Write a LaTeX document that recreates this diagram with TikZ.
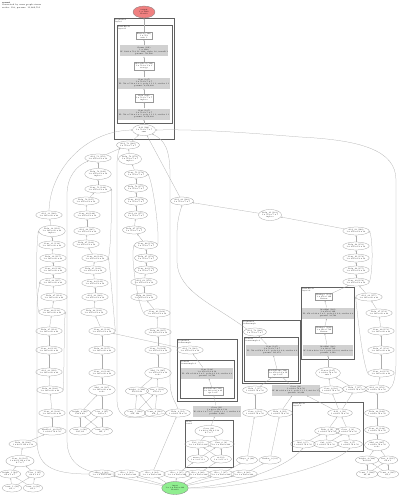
\documentclass[tikz,border=0pt]{standalone}
\usetikzlibrary{shapes.geometric,arrows.meta}
\definecolor{lcoral}{RGB}{240,128,128}
\definecolor{lgreen}{RGB}{144,238,144}
\newcommand\tfs{\fontsize{1.8}{2.15}\selectfont}
\tikzset{
  el/.style={ellipse, draw=black!40, line width=0.25pt, inner sep=0pt, font=\tfs, align=center, minimum width=21pt, minimum height=8pt},
  elt/.style={el, minimum height=11pt},
  wbox/.style={rectangle, draw=black!40, fill=white, line width=0.25pt, inner sep=0.7pt, font=\tfs, align=center, minimum width=16pt},
  gbox/.style={rectangle, fill=black!18, inner sep=0.5pt, font=\tfs, align=center, minimum width=48pt, minimum height=11pt},
  clus/.style={draw=black!62, line width=0.65pt},
  clab/.style={anchor=north west, font=\tfs, align=left, inner sep=0.4pt},
  ed/.style={draw=black!32, line width=0.25pt, -{Stealth[length=1.5pt,width=1.2pt]}},
}
\newcommand\nE[4]{\node[el] (#1) at (#2,#3) {#4};}
\newcommand\nS[4]{\node[el, minimum width=18.5pt] (#1) at (#2,#3) {#4};}
\newcommand\nT[4]{\node[elt] (#1) at (#2,#3) {#4};}
\newcommand\nW[4]{\node[wbox] (#1) at (#2,#3) {#4};}
\newcommand\nG[4]{\node[gbox] (#1) at (#2,#3) {#4};}
\begin{document}
\begin{tikzpicture}[x=1pt,y=-1pt]
\fill[white] (0,0) rectangle (400,495);
\useasboundingbox (0,0) rectangle (400,495);
\node[anchor=north west, font=\fontsize{2}{2.4}\selectfont, align=left, inner sep=0] (title) at (2,2) {\textbf{resnet}\\Generated by onnx graph viewer\\nodes: 118, params: 11,689,512};
% clusters
\draw[clus] (114,18) rectangle (174,139);
\node[clab] (k1) at (114.5,18.5) {Sequential\\layer4};
\draw[clus] (117,25) rectangle (172,123);
\node[clab] (k2) at (117.5,25.5) {BasicBlock\\layer4.1};
\draw[clus] (301,287) rectangle (354,359);
\node[clab] (k3) at (301.5,287.5) {BasicBlock\\layer3.0};
\draw[clus] (242,320) rectangle (300,383);
\node[clab] (k4) at (242.5,320.5) {Sequential\\downsample};
\draw[clus] (244,337) rectangle (298,381.5);
\node[clab] (k5) at (244.5,337.5) {Conv2d\\downsample.0};
\draw[clus] (177,339) rectangle (237,401);
\node[clab] (k6) at (177.5,339.5) {Sequential\\downsample};
\draw[clus] (180,360) rectangle (234,398);
\node[clab] (k7) at (180.5,360.5) {Conv2d\\downsample.0};
\draw[clus] (292,402) rectangle (363,451);
\node[clab] (k8) at (292.5,402.5) {BasicBlock\\layer1.0};
\draw[clus] (185,420) rectangle (233,467);
\node[clab] (k9) at (185.5,420.5) {Stem\\conv1};
% top chain
\node[ellipse, draw=black!50, fill=lcoral, line width=0.3pt, inner sep=0pt, font=\tfs, align=center, minimum width=22pt, minimum height=12pt] (out) at (144,12) {output\\1 x 1000\\float32};
\nW{cb1}{144}{36}{Flatten (190)\\1 x 512\\axis: 1}
\nG{cg1}{144}{51}{Gemm (191)\\1 x 1000\\W: 1000 x 512, B: 1000, alpha 1.0, transB 1\\params: 513,000}
\nW{cb2}{144}{66}{GlobalPool (189)\\1 x 512 x 1 x 1\\average}
\nG{cg2}{144}{83}{Conv (187)\\1 x 512 x 7 x 7\\W: 512 x 512 x 3 x 3, pads 1 1 1 1, strides 1 1\\params: 2,359,808}
\nW{cb3}{144}{98}{Relu (186)\\1 x 512 x 7 x 7\\inplace}
\nG{cg3}{144}{114}{Conv (185)\\1 x 512 x 7 x 7\\W: 512 x 512 x 3 x 3, pads 1 1 1 1, strides 1 1\\params: 2,359,808}
\nT{n0}{144}{130}{Add (184)\\1 x 512 x 7 x 7\\sum}
% column A
\nE{a1}{49}{215}{Add\_33 (120)\\1 x 128 x 28 x 28}
\nT{a2}{52}{231}{Relu\_32 (119)\\1 x 128 x 28 x 28\\inplace}
\nE{a3}{52}{245}{Conv\_31 (118)\\1 x 128 x 28 x 28}
\nE{a4}{53}{258}{Relu\_30 (117)\\1 x 128 x 28 x 28}
\nE{a5}{53}{270}{Conv\_29 (116)\\1 x 128 x 28 x 28}
\nE{a6}{53}{282}{Add\_28 (115)\\1 x 128 x 28 x 28}
\nE{a7}{54}{297}{Relu\_27 (114)\\1 x 128 x 28 x 28}
\nE{a8}{52}{312}{Conv\_26 (113)\\1 x 128 x 28 x 28}
\nE{a9}{49}{331}{Relu\_25 (112)\\1 x 128 x 28 x 28}
\nE{a10}{49}{350}{Conv\_24 (111)\\1 x 128 x 28 x 28}
\nE{a11}{49}{372}{Add\_23 (110)\\1 x 128 x 28 x 28}
\nE{a12}{50}{390}{Relu\_22 (109)\\1 x 128 x 28 x 28}
\nE{a13}{52}{413}{Conv\_21 (108)\\1 x 128 x 28 x 28}
\nE{a14}{52}{431}{MaxPool\_20 (107)\\1 x 64 x 56 x 56}
\nE{a15}{23}{444}{Relu\_19 (106)\\1 x 64 x 112 x 112}
\nT{a16}{20}{461}{Conv\_18 (105)\\1 x 64 x 112 x 112\\k 7 x 7}
\nS{a17a}{10}{474}{weight\_1 (94)\\64 x 3 x 7}
\nS{a17b}{35}{474}{bias\_1 (95)\\64 x 1 x 1}
\nS{a18a}{12}{488}{const\_1 (92)\\64, 3}
\nS{a18b}{33}{488}{const\_2 (93)\\64, 1}
% column B
\nE{b1}{98}{158}{Add\_53 (150)\\1 x 256 x 14 x 14}
\nT{b2}{98}{174}{Relu\_52 (149)\\1 x 256 x 14 x 14\\inplace}
\nE{b3}{98}{189}{Conv\_51 (148)\\1 x 256 x 14 x 14}
\nE{b4}{86}{201}{Relu\_50 (147)\\1 x 256 x 14 x 14}
\nE{b5}{87}{215}{Conv\_49 (146)\\1 x 256 x 14 x 14}
\nE{b6}{87}{231}{Add\_48 (145)\\1 x 256 x 14 x 14}
\nE{b7}{86}{244}{Relu\_47 (144)\\1 x 256 x 14 x 14}
\nE{b8}{95}{258}{Conv\_46 (143)\\1 x 256 x 14 x 14}
\nE{b9}{93}{270}{Relu\_45 (142)\\1 x 256 x 14 x 14}
\nE{b10}{95}{283}{Conv\_44 (141)\\1 x 256 x 14 x 14}
\nE{b11}{95}{297}{Add\_43 (140)\\1 x 256 x 14 x 14}
\nE{b12}{94}{312}{Relu\_42 (139)\\1 x 256 x 14 x 14}
\nE{b13}{102}{331}{Conv\_41 (138)\\1 x 256 x 14 x 14}
\nE{b14}{102}{350}{Relu\_40 (137)\\1 x 128 x 28 x 28}
\nE{b15}{102}{373}{Conv\_39 (136)\\1 x 128 x 28 x 28}
\nT{b16}{102}{390}{Mul\_38 (135)\\1 x 128 x 28 x 28\\scale}
\nE{b17a}{80}{413}{weight\_2 (96)\\128 x 64}
\nE{b17b}{102}{413}{bias\_2 (97)\\128 x 1}
\nE{b18a}{80}{431}{const\_3 (98)\\128, 64}
\nE{b18b}{102}{431}{const\_4 (99)\\128, 1}
% column C
\nE{c1}{128}{145}{Add\_73 (180)\\1 x 512 x 7 x 7}
\nT{c2}{130}{159}{Relu\_72 (179)\\1 x 512 x 7 x 7\\inplace}
\nE{c3}{136}{174}{Conv\_71 (178)\\1 x 512 x 7 x 7}
\nE{c4}{136}{188}{Relu\_70 (177)\\1 x 512 x 7 x 7}
\nE{c5}{136}{201}{Conv\_69 (176)\\1 x 512 x 7 x 7}
\nE{c6}{136}{215}{Add\_68 (175)\\1 x 512 x 7 x 7}
\nE{c7}{134}{230}{Relu\_67 (174)\\1 x 512 x 7 x 7}
\nE{c8}{146}{245}{Conv\_66 (173)\\1 x 512 x 7 x 7}
\nE{c9}{146}{258}{Relu\_65 (172)\\1 x 512 x 7 x 7}
\nE{c10}{146}{270}{Conv\_64 (171)\\1 x 512 x 7 x 7}
\nE{c11}{144}{282}{Add\_63 (170)\\1 x 256 x 14 x 14}
\nE{c12}{144}{297}{Relu\_62 (169)\\1 x 256 x 14 x 14}
\nE{c13}{157}{313}{Conv\_61 (168)\\1 x 256 x 14 x 14}
\nE{c14}{158}{332}{Relu\_60 (167)\\1 x 256 x 14 x 14}
\nE{c15}{158}{350}{Conv\_59 (166)\\1 x 256 x 14 x 14}
\nT{c16}{158}{373}{Mul\_58 (165)\\1 x 256 x 14 x 14\\scale}
\nE{c17a}{137}{391}{weight\_3 (100)\\256 x 128}
\nE{c17b}{157}{391}{bias\_3 (101)\\256 x 1}
\nE{c18a}{135}{413}{const\_5 (102)\\256, 128}
\nE{c18b}{155}{413}{const\_6 (103)\\256, 1}
% D
\nE{d1}{182}{201}{Add\_80 (182)\\1 x 512 x 7 x 7}
\nT{d2}{270}{215}{Relu\_81 (183)\\1 x 512 x 7 x 7\\inplace}
% column E
\nE{e1}{356}{231}{Add\_93 (160)\\1 x 256 x 14 x 14}
\nE{e2}{356}{246}{Relu\_92 (159)\\1 x 256 x 14 x 14}
\nE{e3}{356}{258}{Conv\_91 (158)\\1 x 256 x 14 x 14}
\nE{e4}{356}{270}{Relu\_90 (157)\\1 x 256 x 14 x 14}
\nE{e5}{356}{282}{Conv\_89 (156)\\1 x 256 x 14 x 14}
\nE{e6}{369}{297}{Add\_88 (155)\\1 x 128 x 28 x 28}
\nE{e7}{379}{313}{Relu\_87 (154)\\1 x 128 x 28 x 28}
\nE{e8}{381}{331}{Conv\_86 (153)\\1 x 128 x 28 x 28}
\nE{e9}{381}{350}{Relu\_85 (152)\\1 x 128 x 28 x 28}
\nE{e10}{381}{373}{Conv\_84 (151)\\1 x 128 x 28 x 28}
\nE{e11}{377}{389}{Add\_83 (150)\\1 x 64 x 56 x 56}
\nE{e12}{377}{413}{Relu\_82 (149)\\1 x 64 x 56 x 56}
\nE{e13}{377}{430}{Conv\_81 (148)\\1 x 64 x 56 x 56}
\nT{e14}{377}{445}{Mul\_80 (147)\\1 x 64 x 56 x 56\\scale}
\nS{e15a}{367}{460}{weight\_4 (104)\\64 x 64}
\nS{e15b}{388}{460}{bias\_4 (105)\\64 x 1}
\nS{e16a}{367}{474}{const\_7 (106)\\64, 64}
\nS{e16b}{388}{474}{const\_8 (107)\\64, 1}
% R cluster
\nW{rw1}{324}{297}{Reshape (131)\\1 x 256 x 196\\flatten}
\node[gbox, minimum width=49pt] (rg1) at (328,313) {MatMul (130)\\1 x 256 x 196\\W: 256 x 128 x 1 x 1, pads 0 0 0 0, strides 2 2\\params: 32,768};
\nW{rw2}{324}{330}{Reshape (129)\\1 x 128 x 784\\flatten}
\node[gbox, minimum width=49pt] (rg2) at (328,350) {MatMul (128)\\1 x 128 x 784\\W: 128 x 64 x 1 x 1, pads 0 0 0 0, strides 2 2\\params: 8,192};
\nT{f7}{328}{373}{Concat (127)\\1 x 64 x 56 x 56\\axis 1}
% M cluster
\nE{m1}{255}{332}{Add\_78 (126)\\1 x 512 x 7 x 7}
\node[gbox, minimum width=50pt] (mg) at (272,350) {Conv (125)\\1 x 512 x 7 x 7\\W: 512 x 256 x 1 x 1, pads 0 0 0 0, strides 2 2\\params: 131,072};
\nW{mw}{278}{373}{BatchNorm (124)\\1 x 256 x 14 x 14\\eps 1e-05}
% L cluster
\nE{l1}{190}{350}{Add\_58 (123)\\1 x 256 x 14 x 14}
\node[gbox, minimum width=49pt] (lg) at (207,373) {Conv (122)\\1 x 256 x 14 x 14\\W: 256 x 128 x 1 x 1, pads 0 0 0 0, strides 2 2\\params: 32,768};
\nW{lw}{213}{391}{BatchNorm (121)\\1 x 128 x 28 x 28\\eps 1e-05}
% gray boxes outside
\node[gbox, minimum width=47pt] (gx1) at (217,411) {Conv (11)\\1 x 64 x 112 x 112\\W: 64 x 3 x 7 x 7, pads 3 3 3 3, strides 2 2\\params: 9,408};
\node[gbox, minimum width=48pt] (gx2) at (296,390) {Conv (12)\\1 x 64 x 56 x 56\\W: 64 x 64 x 3 x 3, pads 1 1 1 1, strides 1 1\\params: 36,864};
\nE{f1}{178}{413}{Relu\_4 (14)\\1 x 64 x 56 x 56}
\nE{f2}{255}{390}{Relu\_5 (15)\\1 x 64 x 56 x 56}
\nE{f3}{331}{390}{Conv\_6 (16)\\1 x 64 x 56 x 56}
\nE{f4}{355}{389}{Relu\_7 (17)\\1 x 64 x 56 x 56}
\nE{f5}{255}{413}{Conv\_8 (18)\\1 x 64 x 56 x 56}
\nE{f6}{280}{413}{Relu\_9 (19)\\1 x 64 x 56 x 56}
% B2 cluster
\nE{p1}{340}{413}{Add\_3 (13)\\1 x 64 x 56 x 56}
\nS{p2}{327}{431}{Relu\_2 (9)\\1 x 64 x 56 x 56}
\nS{p3}{348}{431}{Conv\_1 (8)\\1 x 64 x 56 x 56}
\nS{p4}{303}{444}{Mul\_0 (5)\\1 x 64 x 56 x 56}
\nS{p5}{326}{444}{Sub\_0 (6)\\1 x 64 x 56 x 56}
\nS{p6}{350}{444}{Div\_0 (7)\\1 x 64 x 56 x 56}
% B1 cluster
\nT{q1}{209}{431}{Conv (10)\\1 x 64 x 112 x 112\\k 7 x 7}
\nE{q2}{198}{444}{Pad\_0 (3)\\1 x 3 x 230 x 230}
\nE{q3}{221}{444}{Cast\_0 (4)\\1 x 3 x 224 x 224}
\nE{q4}{198}{459}{mean (1)\\1 x 3 x 1 x 1}
\nE{q5}{221}{459}{std (2)\\1 x 3 x 1 x 1}
\nE{g1x}{247}{460}{Shape\_0 (20)\\4}
\nE{g2x}{270}{460}{Gather\_0 (21)\\1}
% bottom row
\nE{r1}{102}{474}{Slice\_0 (22)\\1 x 3 x 224 x 224}
\nE{r2}{127}{474}{Slice\_1 (23)\\1 x 3 x 224 x 224}
\nE{r3}{152}{474}{Slice\_2 (24)\\1 x 3 x 224 x 224}
\nE{r4}{177}{474}{Slice\_3 (25)\\1 x 3 x 224 x 224}
\nE{r5}{198}{474}{Slice\_4 (26)\\1 x 3 x 224 x 224}
\nE{r6}{221}{474}{Slice\_5 (27)\\1 x 3 x 224 x 224}
\nE{r7}{244}{474}{Slice\_6 (28)\\1 x 3 x 224 x 224}
\node[ellipse, draw=black!50, fill=lgreen, line width=0.3pt, inner sep=0pt, font=\tfs, align=center, minimum width=24pt, minimum height=13pt] (green) at (175,488) {input\\1 x 3 x 224 x 224\\float32};
% straight edges
\foreach \u/\v in {cb1/out,cg1/cb1,cb2/cg1,cg2/cb2,cb3/cg2,cg3/cb3,n0/cg3,c1/n0,d1/n0,b1/c1,
 a2/a1,a3/a2,a4/a3,a5/a4,a6/a5,a7/a6,a8/a7,a9/a8,a10/a9,a11/a10,a12/a11,a13/a12,a14/a13,a15/a14,a16/a15,
 a17a/a16,a17b/a16,a18a/a17a,a18a/a17b,a18b/a17a,a18b/a17b,
 b2/b1,b3/b2,b4/b3,b5/b4,b6/b5,b7/b6,b8/b7,b9/b8,b10/b9,b11/b10,b12/b11,b13/b12,b14/b13,b15/b14,b16/b15,
 b17a/b16,b17b/b16,b18a/b17a,b18a/b17b,b18b/b17a,b18b/b17b,
 c2/c1,c3/c2,c4/c3,c5/c4,c6/c5,c7/c6,c8/c7,c9/c8,c10/c9,c11/c10,c12/c11,c13/c12,c14/c13,c15/c14,c16/c15,
 c17a/c16,c17b/c16,c18a/c17a,c18a/c17b,c18b/c17a,c18b/c17b,
 d2/d1,e1/d2,
 e2/e1,e3/e2,e4/e3,e5/e4,e6/e5,e7/e6,e8/e7,e9/e8,e10/e9,e11/e10,e12/e11,e13/e12,e14/e13,
 e15a/e14,e15b/e14,e16a/e15a,e16a/e15b,e16b/e15a,e16b/e15b,
 rg1/rw1,rw2/rg1,rg2/rw2,f7/rg2,f3/f7,f4/f7,p1/f3,p1/f4,p1/gx2,p2/p1,p3/p1,p4/p2,p5/p2,p5/p3,p6/p3,rw1/e5,
 mg/m1,mw/mg,gx2/mw,f2/mw,f5/f2,f6/gx2,g1x/f5,g2x/f6,
 lg/l1,lw/lg,gx1/lw,q1/gx1,q2/q1,q3/q1,q4/q2,q4/q3,q5/q2,q5/q3,l1/b13,
 r3/f1,r4/q4,r5/q5,r6/g1x,r7/g2x,
 green/r1,green/r2,green/r3,green/r4,green/r5,green/r6,green/r7}
 \draw[ed] (\u) -- (\v);
% long curves
\draw[ed] (a1.north) .. controls (50,170) and (85,131) .. (n0.west);
\draw[ed] (r1.west) .. controls (50,474) and (37,465) .. (37,440) -- (37,305) .. controls (37,292) and (40,285) .. (a6.west);
\draw[ed] (r2.west) .. controls (85,474) and (67,465) .. (67,440) -- (67,195) .. controls (67,175) and (78,165) .. (b1.south west);
\draw[ed] (f1.west) .. controls (140,418) and (117,425) .. (117,400) -- (117,165) .. controls (117,155) and (119,150) .. (c1.south west);
\draw[ed] (f1.north) .. controls (176,402) and (170,398) .. (170,380) -- (170,175) .. controls (170,150) and (165,140) .. (n0.south east);
\draw[ed] (m1.north west) .. controls (215,305) and (178,292) .. (177,262) -- (177,235) .. controls (177,220) and (180,212) .. (d1.south);
\draw[ed] (e11.east) .. controls (393,387) and (396,378) .. (396,360) -- (396,180) .. controls (396,150) and (360,140) .. (300,137) .. controls (250,133) and (200,129) .. (n0.east);
\draw[ed] (a8.west) .. controls (36,300) and (36,242) .. (a2.west);
\draw[ed] (a12.east) .. controls (64,380) and (64,322) .. (a8.east);
\draw[ed] (b8.east) .. controls (111,250) and (112,197) .. (b3.east);
\draw[ed] (b13.east) .. controls (114,318) and (110,266) .. (b8.east);
\draw[ed] (c8.east) .. controls (160,235) and (153,182) .. (c3.east);
\draw[ed] (c13.west) .. controls (138,305) and (130,255) .. (c8.west);
\draw[ed] (e5.east) .. controls (373,272) and (373,240) .. (e1.east);
\draw[ed] (e10.west) .. controls (362,360) and (357,310) .. (e6.west);
\draw[ed] (green.east) .. controls (230,486) and (285,470) .. (p4.south);
\draw[ed] (green.east) .. controls (240,490) and (335,466) .. (p6.south);
\end{tikzpicture}
\end{document}
